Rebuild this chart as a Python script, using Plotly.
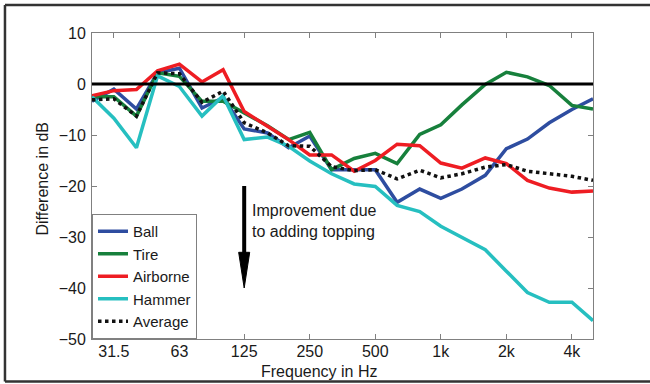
import math
import plotly.graph_objects as go

freqs = [25, 31.5, 40, 50, 63, 80, 100, 125, 160, 200, 250, 315, 400, 500,
         630, 800, 1000, 1250, 1600, 2000, 2500, 3150, 4000, 5000]

ball = [-3.4, -1.0, -4.9, 2.2, 3.1, -4.7, -2.7, -8.8, -9.6, -12.5, -10.2, -16.8,
        -16.8, -16.8, -23.2, -20.6, -22.4, -20.6, -17.9, -12.7, -10.8, -7.6, -5.0, -2.9]
tire = [-2.5, -2.5, -6.3, 2.2, 1.5, -3.4, -3.4, -5.7, -8.2, -10.9, -9.5, -16.8,
        -14.6, -13.6, -15.6, -9.9, -8.0, -4.1, -0.1, 2.3, 1.4, -0.3, -4.2, -4.9]
airborne = [-2.3, -1.3, -1.1, 2.6, 3.9, 0.4, 2.8, -5.4, -8.3, -10.9, -13.9, -13.9,
            -17.1, -15.0, -11.8, -12.1, -15.5, -16.5, -14.5, -15.6, -18.9, -20.4, -21.2, -21.0]
hammer = [-2.5, -6.7, -12.5, 1.6, -0.5, -6.3, -2.3, -10.9, -10.4, -12.2, -15.1, -17.6,
          -19.6, -20.1, -23.8, -25.0, -27.9, -30.0, -32.5, -36.7, -40.9, -42.8, -42.8, -46.4]
average = [-3.1, -2.9, -6.3, 2.2, 2.0, -3.6, -1.4, -7.6, -9.6, -12.1, -12.2, -16.2,
           -17.0, -16.8, -18.6, -16.9, -18.4, -17.6, -16.3, -15.8, -17.1, -17.6, -18.1, -18.9]

tick_vals = [31.5, 63, 125, 250, 500, 1000, 2000, 4000]
tick_text = ["31.5", "63", "125", "250", "500", "1k", "2k", "4k"]
y_ticks = [10, 0, -10, -20, -30, -40, -50]

FONT = "Liberation Sans, Arial, Helvetica, sans-serif"
TXT = "#1a1a1a"
AX = "#808080"
FRAME = "#333333"

series = [
    ("Ball", ball, "#2E4DA0", "solid"),
    ("Tire", tire, "#17803C", "solid"),
    ("Airborne", airborne, "#EE1D23", "solid"),
    ("Hammer", hammer, "#26BFC0", "solid"),
    ("Average", average, "#111111", "dot"),
]

fig = go.Figure()
for name, vals, col, dash in series:
    fig.add_trace(go.Scatter(x=freqs, y=vals, mode="lines", name=name,
                             line=dict(color=col, width=3.5, dash=dash)))

axis_common = dict(showline=True, linecolor=AX, linewidth=1, mirror="ticks",
                   ticks="inside", ticklen=5, tickcolor=AX, showgrid=False,
                   zeroline=False, tickfont=dict(family=FONT, size=16, color=TXT))

fig.update_xaxes(type="log", range=[math.log10(25), math.log10(5000)],
                 tickvals=tick_vals, ticktext=tick_text, ticklabelstandoff=-2,
                 **axis_common)
fig.update_yaxes(range=[-50, 10], tickvals=y_ticks, ticklabelstandoff=2, **axis_common)

# frame edges in paper units (left, top, bottom only; right edge lies off-page)
fx0, fx1, fy0, fy1 = -0.1737, 1.2, -0.1388, 1.0915

shapes = [
    # zero reference line
    dict(type="line", xref="paper", yref="y", x0=0, x1=1, y0=0, y1=0,
         line=dict(color="black", width=3), layer="above"),
    # arrow shaft
    dict(type="line", xref="x", yref="y", x0=125, x1=125, y0=-20, y1=-34,
         line=dict(color="black", width=4)),
    # arrow head
    dict(type="path", xref="x", yref="y",
         path="M 117.9,-33 L 132.5,-33 L 125,-40 Z",
         fillcolor="black", line=dict(color="black", width=1)),
    # outer frame
    dict(type="line", xref="paper", yref="paper", x0=fx0, x1=fx1, y0=fy1, y1=fy1,
         line=dict(color=FRAME, width=2.5)),
    dict(type="line", xref="paper", yref="paper", x0=fx0, x1=fx1, y0=fy0, y1=fy0,
         line=dict(color=FRAME, width=2.5)),
    dict(type="line", xref="paper", yref="paper", x0=fx0, x1=fx0, y0=fy0, y1=fy1,
         line=dict(color=FRAME, width=2.5)),
]

annotations = [
    dict(text="Improvement due<br>to adding topping", xref="paper", yref="y",
         x=0.315, y=-26.8, xanchor="left", yanchor="middle", align="left",
         showarrow=False, font=dict(family=FONT, size=16, color=TXT)),
    dict(text="Difference in dB", xref="paper", yref="paper", x=-0.0978, y=0.5245,
         xanchor="center", yanchor="middle", textangle=-90, showarrow=False,
         font=dict(family=FONT, size=16, color=TXT)),
    dict(text="Frequency in Hz", xref="paper", yref="paper", x=0.454, y=-0.1046,
         xanchor="center", yanchor="middle", showarrow=False,
         font=dict(family=FONT, size=16, color=TXT)),
]

fig.update_layout(
    width=650, height=384,
    margin=dict(l=92, r=57, t=33, b=45),
    paper_bgcolor="white", plot_bgcolor="white",
    font=dict(family=FONT, size=16, color=TXT),
    shapes=shapes, annotations=annotations,
    legend=dict(x=0, y=0, xanchor="left", yanchor="bottom",
                bgcolor="white", bordercolor=AX, borderwidth=1,
                font=dict(family=FONT, size=15, color=TXT),
                itemwidth=30, tracegroupgap=0),
    showlegend=True,
)

fig.write_html("out.html")
